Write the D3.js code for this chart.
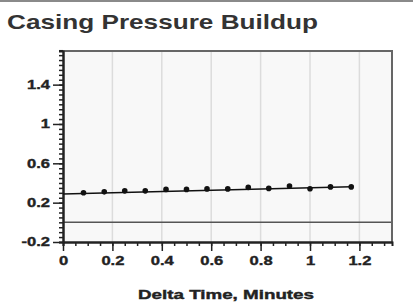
<!DOCTYPE html>
<html>
<head>
<meta charset="utf-8">
<script src="https://cdn.jsdelivr.net/npm/d3@7"></script>
<style>
  body { margin: 0; background: #fff; }
  text { font-family: "Liberation Sans", Arial, sans-serif; }
</style>
</head>
<body>
<script>
const width = 413, height = 304;
const margin = {top: 51, right: 21, bottom: 62, left: 63};
const innerW = width - margin.left - margin.right;
const innerH = height - margin.top - margin.bottom;
const stretch = 1.38; // the source text is drawn wide

// data (time in minutes, pressure)
var times = [0.083, 0.167, 0.25, 0.333, 0.417, 0.5, 0.583, 0.667, 0.75, 0.833, 0.917, 1.0, 1.083, 1.167];
var pressures = [0.30, 0.31, 0.32, 0.32, 0.335, 0.335, 0.34, 0.34, 0.355, 0.345, 0.37, 0.342, 0.36, 0.36];
var trendTimes = [0, 1.167];
var trendValues = [0.288, 0.362];
var xTicks = [0, 0.2, 0.4, 0.6, 0.8, 1, 1.2];
var yTicks = [-0.2, 0.2, 0.6, 1, 1.4];

var xScale = d3.scaleLinear().domain([0, 1.332]).range([0, innerW]);
var yScale = d3.scaleLinear().domain([-0.2, 1.742]).range([innerH, 0]);

// plain hyphen for negatives, like the source
function fmt(d) { return String(+d.toFixed(2)); }

var svg = d3.select("body").append("svg")
    .attr("width", width)
    .attr("height", height);

// top rule
svg.append("rect").attr("x", 0).attr("y", 0).attr("width", width).attr("height", 2).attr("fill", "#8a8a8a");

svg.append("text")
    .attr("x", 7).attr("y", 29)
    .attr("font-size", 21).attr("font-weight", "bold").attr("fill", "#333")
    .attr("textLength", 311).attr("lengthAdjust", "spacingAndGlyphs")
    .text("Casing Pressure Buildup");

var g = svg.append("g").attr("transform", "translate(" + margin.left + "," + margin.top + ")");

g.append("rect")
    .attr("width", innerW).attr("height", innerH)
    .attr("fill", "#f8f8f8");

// vertical grid
g.selectAll(".grid").data(xTicks.filter(function(d) { return d > 0; }))
  .enter().append("line")
    .attr("class", "grid")
    .attr("x1", function(d) { return xScale(d); })
    .attr("x2", function(d) { return xScale(d); })
    .attr("y1", 0).attr("y2", innerH)
    .attr("stroke", "#dcdcdc").attr("stroke-width", 1.5);

// zero line
g.append("line")
    .attr("x1", 0).attr("x2", innerW)
    .attr("y1", yScale(0)).attr("y2", yScale(0))
    .attr("stroke", "#555").attr("stroke-width", 1.5);

// border top / right
g.append("path")
    .attr("d", "M0,0H" + innerW + "V" + innerH)
    .attr("fill", "none").attr("stroke", "#666").attr("stroke-width", 2);

// minor ticks
var xMinor = d3.range(0, 1.33, 0.05);
var yMinor = d3.range(-0.2, 1.76, 0.05);
var xMinorAxis = d3.axisBottom(xScale).tickValues(xMinor).tickSize(4).tickFormat("");
var yMinorAxis = d3.axisLeft(yScale).tickValues(yMinor).tickSize(4).tickFormat("");
var xAxis = d3.axisBottom(xScale).tickValues(xTicks).tickSize(9).tickPadding(5).tickSizeOuter(0)
    .tickFormat(fmt);
var yAxis = d3.axisLeft(yScale).tickValues(yTicks).tickSize(10).tickPadding(3).tickSizeOuter(0)
    .tickFormat(fmt);

g.append("g").attr("transform", "translate(0," + innerH + ")").call(xMinorAxis);
g.append("g").call(yMinorAxis);
var gx = g.append("g").attr("transform", "translate(0," + innerH + ")").call(xAxis);
var gy = g.append("g").call(yAxis);

g.selectAll(".domain").attr("stroke", "#222").attr("stroke-width", 2);
g.selectAll(".tick line").attr("stroke", "#222").attr("stroke-width", 1.5);
[gx, gy].forEach(function(a) {
  a.selectAll("text")
    .attr("font-size", 12).attr("font-weight", "bold").attr("fill", "#222")
    .attr("stroke", "#222").attr("stroke-width", 0.35)
    .style("font-family", "Liberation Sans, Arial, sans-serif")
    .each(function() {
      var w = this.getComputedTextLength();
      d3.select(this).attr("textLength", w * stretch).attr("lengthAdjust", "spacingAndGlyphs");
    });
});

// trend line
var line = d3.line()
    .x(function(d) { return xScale(d[0]); })
    .y(function(d) { return yScale(d[1]); });
g.append("path")
    .datum(d3.zip(trendTimes, trendValues))
    .attr("d", line)
    .attr("fill", "none").attr("stroke", "#111").attr("stroke-width", 1.5);

g.selectAll(".dot").data(d3.zip(times, pressures))
  .enter().append("circle")
    .attr("class", "dot")
    .attr("cx", function(d) { return xScale(d[0]); })
    .attr("cy", function(d) { return yScale(d[1]); })
    .attr("r", 2.8)
    .attr("fill", "#111");

svg.append("text")
    .attr("x", 226).attr("y", 299)
    .attr("text-anchor", "middle")
    .attr("font-size", 13).attr("font-weight", "bold").attr("fill", "#222")
    .attr("stroke", "#222").attr("stroke-width", 0.4)
    .attr("textLength", 176).attr("lengthAdjust", "spacingAndGlyphs")
    .text("Delta Time, Minutes");
</script>
</body>
</html>
